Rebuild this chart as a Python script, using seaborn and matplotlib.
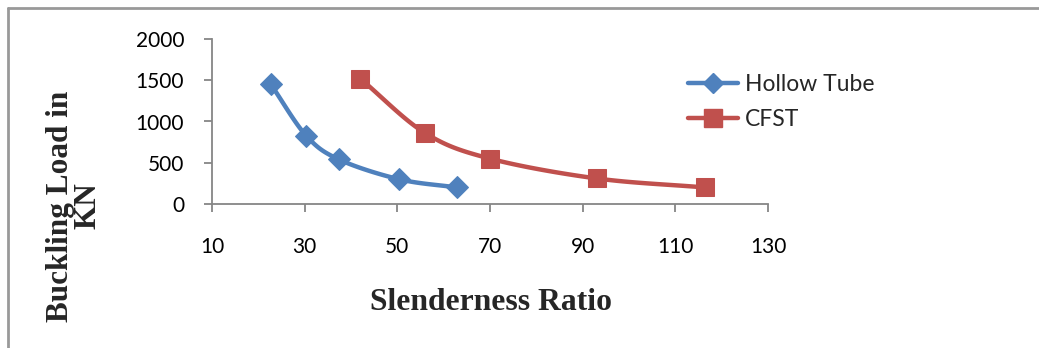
import numpy as np
import pandas as pd
import matplotlib
matplotlib.use("Agg")
import matplotlib.pyplot as plt
from matplotlib.lines import Line2D
import seaborn as sns

hollow_x = [22.7, 30.3, 37.4, 50.4, 62.9]
hollow_y = [1450, 830, 540, 300, 200]
cfst_x = [42.0, 56.0, 70.0, 93.0, 116.5]
cfst_y = [1520, 860, 550, 310, 200]
x_ticks = [10, 30, 50, 70, 90, 110, 130]
y_ticks = [0, 500, 1000, 1500, 2000]

sns.set_theme(style="white")
plt.rcParams['font.family'] = ['Lato', 'DejaVu Sans']

BLUE = "#4F81BD"
RED = "#C0504D"
GRAY = "#868686"


def catmull_rom(xs, ys, n=30):
    pts = np.column_stack([xs, ys]).astype(float)
    p = np.vstack([2 * pts[0] - pts[1], pts, 2 * pts[-1] - pts[-2]])
    out = []
    t = np.linspace(0, 1, n)[:, None]
    for i in range(1, len(p) - 2):
        p0, p1, p2, p3 = p[i - 1], p[i], p[i + 1], p[i + 2]
        seg = 0.5 * ((2 * p1) + (-p0 + p2) * t + (2 * p0 - 5 * p1 + 4 * p2 - p3) * t ** 2
                     + (-p0 + 3 * p1 - 3 * p2 + p3) * t ** 3)
        out.append(seg if i == 1 else seg[1:])
    out = np.vstack(out)
    return out[:, 0], out[:, 1]


fig = plt.figure(figsize=(10.39, 3.48), dpi=100)
ax = fig.add_axes([212 / 1039, 1 - 204 / 348, (768 - 212) / 1039, (204 - 39) / 348])

df = pd.concat([
    pd.DataFrame({"x": hollow_x, "y": hollow_y, "s": "Hollow Tube"}),
    pd.DataFrame({"x": cfst_x, "y": cfst_y, "s": "CFST"}),
])

for name, xs, ys, col, mk, ms in [("Hollow Tube", hollow_x, hollow_y, BLUE, "D", 11.5),
                                  ("CFST", cfst_x, cfst_y, RED, "s", 13.5)]:
    sx, sy = catmull_rom(xs, ys)
    ax.plot(sx, sy, color=col, lw=3.2, solid_capstyle="round", zorder=2)
    sub = df[df["s"] == name]
    sns.lineplot(data=sub, x="x", y="y", ax=ax, color=col, marker=mk, markersize=ms,
                 markeredgecolor=col, linestyle="none", zorder=3, legend=False)

ax.set_xlim(10, 130)
ax.set_ylim(0, 2000)
ax.set_xticks(x_ticks)
ax.set_yticks(y_ticks)
ax.set_xlabel("")
ax.set_ylabel("")
for s in ["top", "right"]:
    ax.spines[s].set_visible(False)
for s in ["left", "bottom"]:
    ax.spines[s].set_color(GRAY)
    ax.spines[s].set_linewidth(1.3)
ax.tick_params(axis="x", direction="out", length=6, width=1.3, color=GRAY, pad=18,
               labelsize=15, labelcolor="black", bottom=True)
ax.tick_params(axis="y", direction="out", length=6, width=1.3, color=GRAY, pad=14,
               labelsize=15, labelcolor="black", left=True)
ax.set_clip_on(False)

handles = [Line2D([], [], color=BLUE, lw=3.2, marker="D", markersize=10.5),
           Line2D([], [], color=RED, lw=3.2, marker="s", markersize=12.5)]
fig.legend(handles, ["Hollow Tube", "CFST"], loc="upper left",
           bbox_to_anchor=(688 / 1039, 1 - 74 / 348), frameon=False,
           fontsize=16.5, handlelength=2.2, handletextpad=0.3, labelspacing=0.62,
           borderaxespad=0, borderpad=0)

fig.text(491 / 1039, 1 - 302 / 348, "Slenderness Ratio", ha="center", va="center",
         family=["Liberation Serif"], fontweight="bold", fontsize=22.8)
fig.text(74 / 1039, 1 - 206 / 348, "Buckling Load in\nKN", ha="center", va="center",
         rotation=90, family=["Liberation Serif"], fontweight="bold", fontsize=22.5,
         linespacing=0.95, multialignment="center")

fig.add_artist(Line2D([8 / 1039, 8 / 1039], [0, 1 - 8 / 348], color="#999999", lw=2,
                      transform=fig.transFigure))
fig.add_artist(Line2D([8 / 1039, 1], [1 - 8 / 348, 1 - 8 / 348], color="#999999", lw=2,
                      transform=fig.transFigure))

fig.savefig("out.png", dpi=100, facecolor="white")
